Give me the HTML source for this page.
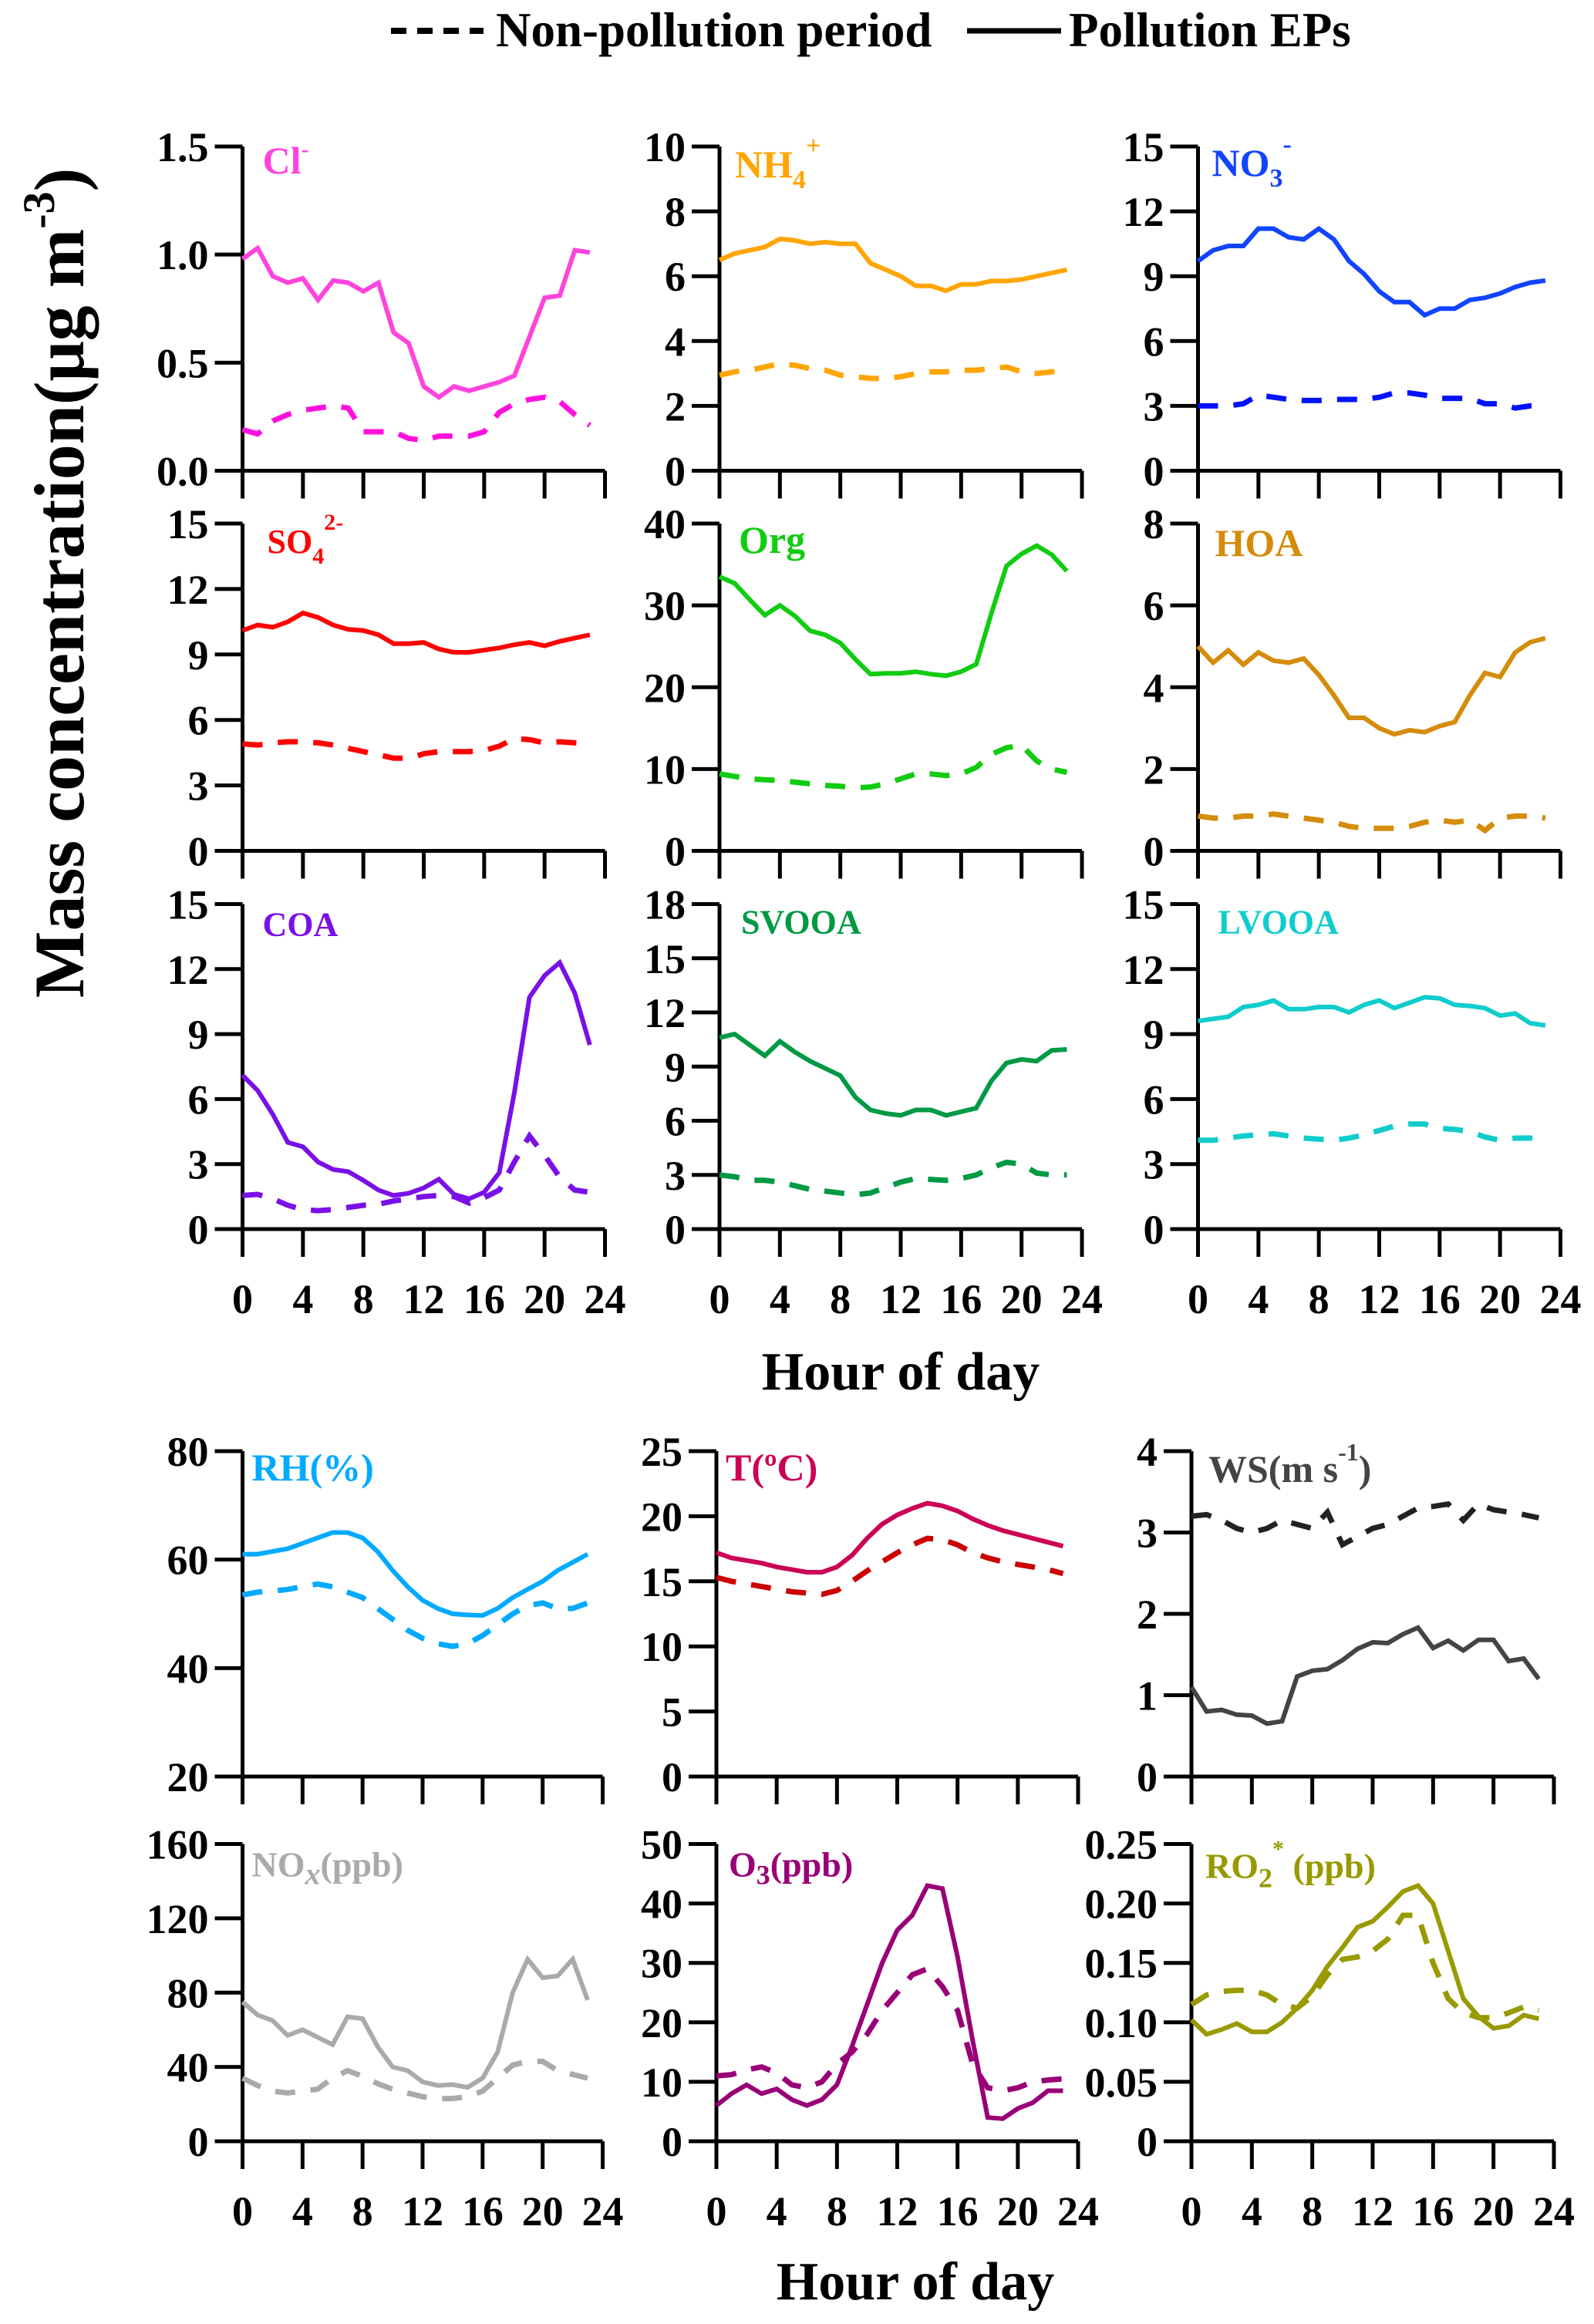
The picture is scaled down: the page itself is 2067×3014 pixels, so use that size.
<!DOCTYPE html>
<html><head><meta charset="utf-8"><style>
html,body{margin:0;padding:0;background:#fff;}
svg{display:block;font-family:"Liberation Serif",serif;font-weight:bold;}
</style></head><body>
<svg id="fig" width="2067" height="3014" viewBox="0 0 2067 3014" xmlns="http://www.w3.org/2000/svg">
<g>
<line x1="507" y1="40" x2="627" y2="40" stroke="#000" stroke-width="8" stroke-dasharray="20 14"/>
<text x="643" y="60" font-size="63">Non-pollution period</text>
<line x1="1254" y1="40" x2="1376" y2="40" stroke="#000" stroke-width="7"/>
<text x="1386" y="60" font-size="63">Pollution EPs</text>
</g>
<text transform="translate(108,756) rotate(-90)" text-anchor="middle" font-size="92">Mass concentration(μg m<tspan dy="-38" font-size="58">-3</tspan><tspan dy="38">)</tspan></text>
<text x="1168" y="1802" text-anchor="middle" font-size="70">Hour of day</text>
<text x="1187" y="2982" text-anchor="middle" font-size="70">Hour of day</text>
<g id="panels"></g>
</svg>
<script>
const hours = [0,1,2,3,4,5,6,7,8,9,10,11,12,13,14,15,16,17,18,19,20,21,22,23];
const xTickLabels = ["0","4","8","12","16","20","24"];

const clSolid = [0.98,1.03,0.90,0.87,0.89,0.79,0.88,0.87,0.83,0.87,0.64,0.59,0.39,0.34,0.39,0.37,0.39,0.41,0.44,0.62,0.80,0.81,1.02,1.01];
const clDashed = [0.19,0.17,0.23,0.26,0.28,0.29,0.30,0.29,0.18,0.18,0.18,0.15,0.14,0.16,0.16,0.16,0.18,0.27,0.31,0.33,0.34,0.32,0.26,0.21];
const clTicks = ["0.0","0.5","1.0","1.5"];

const nh4Solid = [6.5,6.7,6.8,6.9,7.15,7.1,7.0,7.05,7.0,7.0,6.4,6.2,6.0,5.7,5.7,5.55,5.75,5.75,5.85,5.85,5.9,6.0,6.1,6.2];
const nh4Dashed = [2.95,3.05,3.1,3.2,3.3,3.25,3.15,3.1,2.95,2.9,2.85,2.85,2.9,3.0,3.05,3.05,3.1,3.1,3.15,3.2,3.05,3.0,3.05,3.1];
const nh4Ticks = ["0","2","4","6","8","10"];

const no3Solid = [9.7,10.2,10.4,10.4,11.2,11.2,10.8,10.7,11.2,10.7,9.7,9.1,8.3,7.8,7.8,7.2,7.5,7.5,7.9,8.0,8.2,8.5,8.7,8.8];
const no3Dashed = [3.0,3.0,3.0,3.1,3.5,3.4,3.3,3.25,3.25,3.3,3.3,3.3,3.4,3.6,3.6,3.5,3.35,3.35,3.35,3.1,3.1,2.9,3.0,3.0];
const no3Ticks = ["0","3","6","9","12","15"];

const so4Solid = [10.1,10.35,10.25,10.5,10.9,10.7,10.35,10.15,10.1,9.9,9.5,9.5,9.55,9.25,9.1,9.1,9.2,9.3,9.45,9.55,9.4,9.6,9.75,9.9];
const so4Dashed = [4.9,4.85,4.95,5.0,5.0,4.95,4.85,4.7,4.55,4.4,4.25,4.25,4.45,4.55,4.55,4.55,4.6,4.8,5.15,5.1,4.95,5.0,4.95,4.9];
const so4Ticks = ["0","3","6","9","12","15"];

const orgSolid = [33.5,32.7,30.7,28.8,30.0,28.7,26.9,26.4,25.4,23.4,21.6,21.7,21.7,21.9,21.6,21.4,21.9,22.8,29,34.8,36.3,37.3,36.2,34.2];
const orgDashed = [9.4,9.1,8.8,8.7,8.6,8.4,8.2,8.0,7.9,7.7,7.8,8.2,8.8,9.4,9.4,9.2,9.4,10.2,11.8,12.6,12.9,11.0,10.0,9.6];
const orgTicks = ["0","10","20","30","40"];

const hoaSolid = [5.0,4.6,4.9,4.55,4.85,4.65,4.6,4.7,4.3,3.8,3.25,3.25,3.0,2.85,2.95,2.9,3.05,3.15,3.8,4.35,4.25,4.85,5.1,5.2];
const hoaDashed = [0.85,0.8,0.8,0.85,0.85,0.9,0.85,0.8,0.75,0.7,0.6,0.55,0.55,0.55,0.6,0.7,0.75,0.7,0.75,0.5,0.8,0.85,0.85,0.8];
const hoaTicks = ["0","2","4","6","8"];

const coaSolid = [7.1,6.4,5.3,4.0,3.8,3.1,2.75,2.65,2.25,1.8,1.55,1.65,1.9,2.3,1.6,1.4,1.7,2.6,6.3,10.7,11.7,12.3,10.9,8.5];
const coaDashed = [1.55,1.6,1.4,1.1,0.9,0.85,0.9,1.0,1.1,1.15,1.3,1.4,1.5,1.55,1.5,1.2,1.45,1.8,3.1,4.3,3.4,2.4,1.8,1.7];
const coaTicks = ["0","3","6","9","12","15"];

const svooaSolid = [10.6,10.8,10.2,9.6,10.4,9.8,9.3,8.9,8.5,7.3,6.6,6.4,6.3,6.6,6.6,6.3,6.5,6.7,8.2,9.2,9.4,9.3,9.9,9.95];
const svooaDashed = [3.0,2.9,2.7,2.7,2.6,2.4,2.2,2.1,2.0,1.9,2.0,2.3,2.6,2.8,2.75,2.7,2.8,3.0,3.4,3.7,3.6,3.1,3.0,3.0];
const svooaTicks = ["0","3","6","9","12","15","18"];

const lvooaSolid = [9.6,9.7,9.8,10.25,10.35,10.55,10.15,10.15,10.25,10.25,10.0,10.35,10.55,10.2,10.45,10.7,10.65,10.35,10.3,10.2,9.85,9.95,9.5,9.4];
const lvooaDashed = [4.1,4.1,4.2,4.3,4.35,4.4,4.3,4.2,4.15,4.1,4.2,4.35,4.55,4.75,4.85,4.85,4.65,4.6,4.5,4.25,4.1,4.2,4.2,4.2];
const lvooaTicks = ["0","3","6","9","12","15"];

const rhSolid = [61,61,61.5,62,63,64,65,65,64,61.5,58,55,52.5,51,50,49.8,49.7,51,53,54.5,56,58,59.5,61];
const rhDashed = [53.5,54,54.2,54.5,55,55.5,55,54,53,51,49,47,45.5,44.5,44,44.5,46,48,50,51.5,52,51,51,52];
const rhTicks = ["20","40","60","80"];

const tSolid = [17.2,16.8,16.6,16.4,16.1,15.9,15.7,15.7,16.1,17.0,18.3,19.4,20.1,20.6,21.0,20.8,20.4,19.8,19.3,18.9,18.6,18.3,18.0,17.7];
const tDashed = [15.3,15.0,14.8,14.6,14.4,14.2,14.1,14.0,14.3,15.0,15.8,16.5,17.2,17.8,18.3,18.2,17.8,17.2,16.8,16.5,16.3,16.1,15.9,15.6];
const tTicks = ["0","5","10","15","20","25"];

const wsSolid = [1.1,0.8,0.82,0.76,0.75,0.65,0.68,1.23,1.3,1.32,1.43,1.57,1.65,1.64,1.75,1.83,1.58,1.67,1.55,1.68,1.68,1.42,1.45,1.2];
const wsDashed = [3.2,3.22,3.15,3.05,3.0,3.05,3.15,3.1,3.05,3.25,2.85,2.95,3.05,3.1,3.2,3.3,3.32,3.35,3.15,3.35,3.28,3.25,3.22,3.18];
const wsTicks = ["0","1","2","3","4"];

const noxSolid = [75,68,65,57,60,56,52,67,66,51,40,38,32,30,30.5,29,34,48,80,98,88,89,98,76];
const noxDashed = [34,30,27,26,27,28,34,38,35,31,28,26,24,23,23,24,27,34,41,43,43,38,36,34];
const noxTicks = ["0","40","80","120","160"];

const o3Solid = [6,8,9.5,8,8.8,7,6,7,9.5,16,23,30,35.5,38,43,42.5,31,17,4,3.8,5.5,6.5,8.5,8.5];
const o3Dashed = [11,11.2,12,12.5,11.5,9.5,9,10,13,15,18,22,25,28,29,26,22,13,9,8.5,9,10,10.3,10.5];
const o3Ticks = ["0","10","20","30","40","50"];

const ro2Solid = [0.102,0.090,0.094,0.099,0.092,0.092,0.100,0.112,0.127,0.147,0.163,0.180,0.185,0.197,0.210,0.215,0.200,0.160,0.120,0.105,0.095,0.097,0.106,0.103];
const ro2Dashed = [0.115,0.123,0.126,0.127,0.127,0.123,0.115,0.112,0.122,0.140,0.153,0.155,0.160,0.170,0.190,0.190,0.150,0.120,0.108,0.104,0.104,0.108,0.113,0.110];
const ro2Ticks = ["0","0.05","0.10","0.15","0.20","0.25"];

const NS = "http://www.w3.org/2000/svg";
const root = document.getElementById('panels');
function mk(tag, attrs, parent){const e=document.createElementNS(NS,tag);for(const k in attrs)e.setAttribute(k,attrs[k]);parent.appendChild(e);return e;}

const panels = [
 {id:"cl",x:314.5,w:470,top:190,bot:610.5,ticks:clTicks,solid:clSolid,dashed:clDashed,c1:"#ff44dd",c2:"#ff11dd",label:'Cl<tspan dy="-22" font-size="30">-</tspan>',lx:26,ly:35,fs:50,xl:false},
 {id:"nh4",x:933,w:470,top:190,bot:610.5,ticks:nh4Ticks,solid:nh4Solid,dashed:nh4Dashed,c1:"#ffa500",c2:"#ffa500",label:'NH<tspan dy="14" font-size="34">4</tspan><tspan dy="-44" font-size="34">+</tspan>',lx:20,ly:40,fs:50,xl:false},
 {id:"no3",x:1553.5,w:470,top:190,bot:610.5,ticks:no3Ticks,solid:no3Solid,dashed:no3Dashed,c1:"#1144ff",c2:"#0011ff",label:'NO<tspan dy="14" font-size="34">3</tspan><tspan dy="-44" font-size="34">-</tspan>',lx:18,ly:38,fs:50,xl:false},
 {id:"so4",x:314.5,w:470,top:679,bot:1103.5,ticks:so4Ticks,solid:so4Solid,dashed:so4Dashed,c1:"#ff0000",c2:"#ff0000",label:'SO<tspan dy="14" font-size="30">4</tspan><tspan dy="-44" font-size="30">2-</tspan>',lx:32,ly:38,fs:44,xl:false},
 {id:"org",x:933,w:470,top:679,bot:1103.5,ticks:orgTicks,solid:orgSolid,dashed:orgDashed,c1:"#11cc11",c2:"#11cc11",label:'Org',lx:25,ly:38,fs:50,xl:false},
 {id:"hoa",x:1553.5,w:470,top:679,bot:1103.5,ticks:hoaTicks,solid:hoaSolid,dashed:hoaDashed,c1:"#d48c0a",c2:"#d48c0a",label:'HOA',lx:22,ly:42,fs:50,xl:false},
 {id:"coa",x:314.5,w:470,top:1172.5,bot:1594,ticks:coaTicks,solid:coaSolid,dashed:coaDashed,c1:"#7a10e8",c2:"#7a10e8",label:'COA',lx:26,ly:41,fs:44,xl:true},
 {id:"svooa",x:933,w:470,top:1172.5,bot:1594,ticks:svooaTicks,solid:svooaSolid,dashed:svooaDashed,c1:"#009944",c2:"#009944",label:'SVOOA',lx:28,ly:38,fs:44,xl:true},
 {id:"lvooa",x:1553.5,w:470,top:1172.5,bot:1594,ticks:lvooaTicks,solid:lvooaSolid,dashed:lvooaDashed,c1:"#11cccc",c2:"#11cccc",label:'LVOOA',lx:26,ly:38,fs:44,xl:true},
 {id:"rh",x:314.5,w:467,top:1882,bot:2304,ticks:rhTicks,solid:rhSolid,dashed:rhDashed,c1:"#00aaff",c2:"#00aaff",label:'RH(%)',lx:12,ly:38,fs:50,xl:false},
 {id:"t",x:929,w:469,top:1882,bot:2304,ticks:tTicks,solid:tSolid,dashed:tDashed,c1:"#cc0055",c2:"#cc0000",label:'T(ºC)',lx:12,ly:38,fs:50,xl:false},
 {id:"ws",x:1545,w:470,top:1882,bot:2304,ticks:wsTicks,solid:wsSolid,dashed:wsDashed,c1:"#444444",c2:"#222222",label:'WS(m s<tspan dy="-28" font-size="32">-1</tspan><tspan dy="28">)</tspan>',lx:22,ly:40,fs:50,xl:false},
 {id:"nox",x:314.5,w:467,top:2391.5,bot:2777,ticks:noxTicks,solid:noxSolid,dashed:noxDashed,c1:"#aaaaaa",c2:"#aaaaaa",label:'NO<tspan dy="10" font-style="italic" font-size="40">x</tspan><tspan dy="-10">(ppb)</tspan>',lx:12,ly:42,fs:46,xl:true},
 {id:"o3",x:929,w:469,top:2391.5,bot:2777,ticks:o3Ticks,solid:o3Solid,dashed:o3Dashed,c1:"#990077",c2:"#990077",label:'O<tspan dy="10" font-size="36">3</tspan><tspan dy="-10">(ppb)</tspan>',lx:16,ly:42,fs:46,xl:true},
 {id:"ro2",x:1545,w:470,top:2391.5,bot:2777,ticks:ro2Ticks,solid:ro2Solid,dashed:ro2Dashed,c1:"#999900",c2:"#999900",label:'RO<tspan dy="12" font-size="36">2</tspan><tspan dy="-40" font-size="30">*</tspan><tspan dy="28"> (ppb)</tspan>',lx:18,ly:44,fs:46,xl:true}
];

panels.forEach(p=>{
  const g = mk('g',{},root);
  
  
  const vmin = parseFloat(p.ticks[0]), vmax = parseFloat(p.ticks[p.ticks.length-1]);
  const xs = h => p.x + h/24*p.w;
  const ys = v => p.bot - (v-vmin)/(vmax-vmin)*(p.bot-p.top);
  const ax = mk('path',{d:`M${p.x} ${p.top} V${p.bot} H${p.x+p.w}`,fill:'none',stroke:'#000','stroke-width':5,'stroke-linejoin':'miter'},g);
  
  
  p.ticks.forEach(t=>{
    const y = ys(parseFloat(t));
    const tk = mk('line',{x1:p.x-36,y1:y,x2:p.x,y2:y,stroke:'#000','stroke-width':5},g);
    
    
    const tl = mk('text',{x:p.x-44,y:y+19,'text-anchor':'end','font-size':54},g);
    
    
    tl.textContent = t;
  });
  xTickLabels.forEach(t=>{
    const x = xs(parseFloat(t));
    const tk = mk('line',{x1:x,y1:p.bot,x2:x,y2:p.bot+36,stroke:'#000','stroke-width':5},g);
    
    
    if(p.xl){
      const tl = mk('text',{x:x,y:p.bot+109,'text-anchor':'middle','font-size':54},g);
      
      
      tl.textContent = t;
    }
  });
  const dpts = hours.map((h,i)=>xs(h).toFixed(1)+','+ys(p.dashed[i]).toFixed(1)).join(' ');
  const dl = mk('polyline',{points:dpts,fill:'none',stroke:p.c2,'stroke-width':7,'stroke-dasharray':'26 20'},g);
  
  
  const spts = hours.map((h,i)=>xs(h).toFixed(1)+','+ys(p.solid[i]).toFixed(1)).join(' ');
  const sl = mk('polyline',{points:spts,fill:'none',stroke:p.c1,'stroke-width':6,'stroke-linejoin':'miter'},g);
  
  
  const lb = mk('text',{x:p.x+p.lx,y:p.top+p.ly,fill:p.c1,'font-size':p.fs},g);
  
  
  lb.innerHTML = p.label;
});
</script>
</body></html>
